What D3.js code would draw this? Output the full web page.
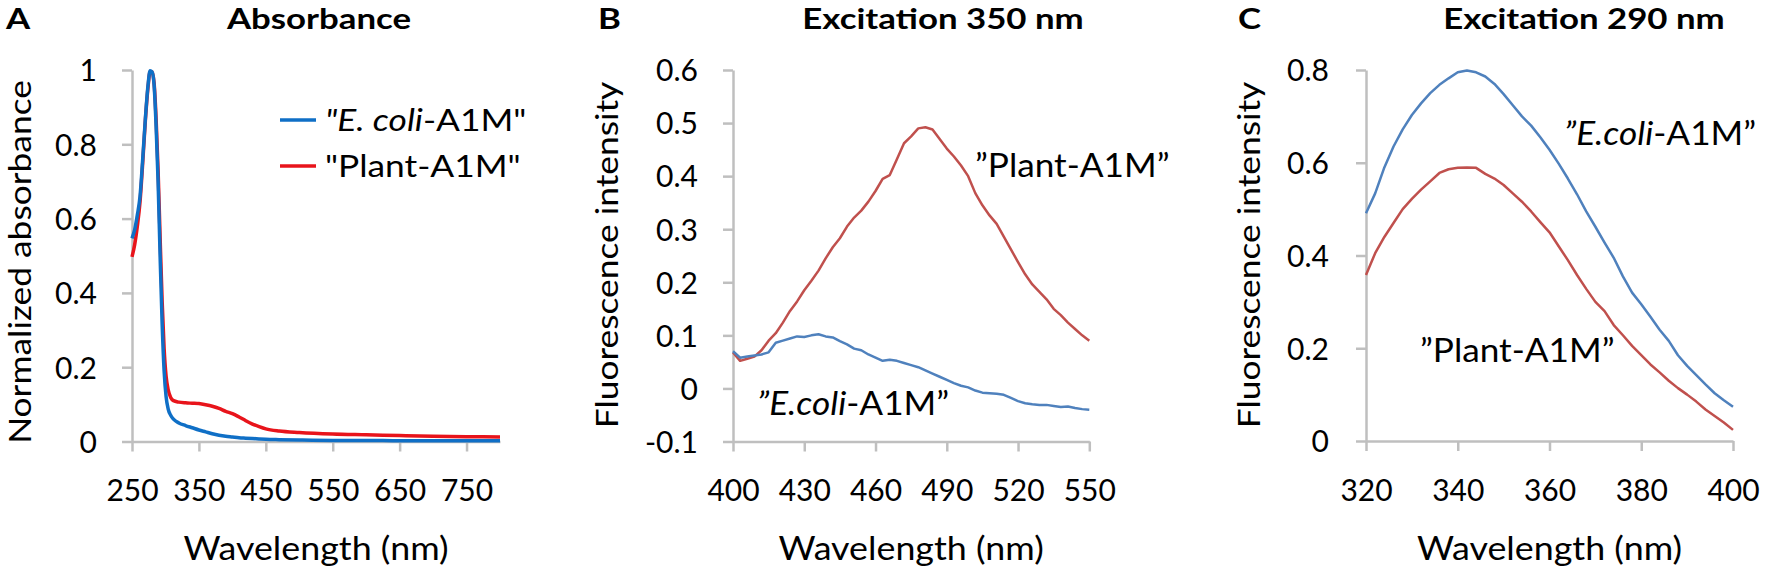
<!DOCTYPE html>
<html>
<head>
<meta charset="utf-8">
<script src="https://cdn.jsdelivr.net/npm/d3@7"></script>
<style>
  html, body { margin: 0; padding: 0; background: #fff; }
  svg { display: block; font-family: Lato, "Open Sans", sans-serif; }
</style>
</head>
<body>
<svg id="chart" width="1765" height="570"></svg>
<script>
// ---------- Panel A: Absorbance ----------
const absWl = [250,254,258,262,266,270,274,277,280,283,286,289,292,295,298,301,304,308,312,320,330,340,350,360,370,380,390,400,410,420,430,440,450,470,500,550,600,650,700,750,800];
const absEcoli = [0.547,0.570,0.610,0.660,0.760,0.870,0.960,0.998,0.995,0.960,0.850,0.700,0.500,0.320,0.190,0.120,0.088,0.070,0.060,0.050,0.043,0.037,0.031,0.026,0.021,0.017,0.014,0.012,0.010,0.009,0.008,0.007,0.006,0.005,0.004,0.003,0.003,0.002,0.002,0.002,0.002];
const absPlant = [0.497,0.530,0.580,0.645,0.750,0.865,0.955,0.995,0.995,0.965,0.870,0.730,0.550,0.380,0.250,0.175,0.140,0.118,0.110,0.106,0.104,0.103,0.102,0.099,0.095,0.089,0.081,0.075,0.066,0.056,0.047,0.040,0.034,0.028,0.024,0.020,0.018,0.016,0.014,0.013,0.012];
const absXTicks = [250,350,450,550,650,750];
const absYTicks = [0,0.2,0.4,0.6,0.8,1];

// ---------- Panel B: Excitation 350 nm ----------
const ex350Wl = [400,403,406,409,412,415,418,421,424,427,430,433,436,439,442,445,448,451,454,457,460,463,466,469,472,475,478,481,484,487,490,493,496,499,502,505,508,511,514,517,520,523,526,529,532,535,538,541,544,547,550];
const ex350Plant = [0.068,0.052,0.056,0.060,0.072,0.090,0.104,0.124,0.146,0.164,0.185,0.203,0.222,0.245,0.266,0.283,0.305,0.322,0.335,0.352,0.372,0.395,0.402,0.432,0.462,0.475,0.490,0.492,0.488,0.470,0.452,0.437,0.420,0.400,0.368,0.345,0.326,0.310,0.286,0.262,0.238,0.215,0.196,0.182,0.168,0.150,0.138,0.124,0.112,0.100,0.090];
const ex350Ecoli = [0.070,0.058,0.060,0.062,0.064,0.068,0.086,0.090,0.094,0.098,0.097,0.100,0.102,0.098,0.096,0.089,0.083,0.075,0.072,0.064,0.058,0.052,0.054,0.052,0.048,0.044,0.040,0.034,0.028,0.022,0.016,0.010,0.005,0.002,-0.004,-0.008,-0.009,-0.010,-0.012,-0.018,-0.024,-0.028,-0.030,-0.031,-0.031,-0.033,-0.035,-0.034,-0.037,-0.039,-0.040];
const ex350XTicks = [400,430,460,490,520,550];
const ex350YTicks = [-0.1,0,0.1,0.2,0.3,0.4,0.5,0.6];

// ---------- Panel C: Excitation 290 nm ----------
const ex290Wl = [320,322,324,326,328,330,332,334,336,338,340,342,344,346,348,350,352,354,356,358,360,362,364,366,368,370,372,374,376,378,380,382,384,386,388,390,392,394,396,398,400];
const ex290Ecoli = [0.491,0.534,0.590,0.635,0.672,0.703,0.728,0.750,0.768,0.782,0.795,0.799,0.795,0.786,0.770,0.748,0.724,0.700,0.680,0.655,0.628,0.598,0.566,0.532,0.495,0.462,0.428,0.395,0.355,0.320,0.295,0.268,0.240,0.216,0.185,0.162,0.142,0.122,0.103,0.088,0.074];
const ex290Plant = [0.358,0.405,0.440,0.470,0.500,0.522,0.542,0.560,0.578,0.586,0.589,0.590,0.589,0.576,0.566,0.552,0.534,0.516,0.495,0.472,0.450,0.420,0.390,0.358,0.328,0.300,0.280,0.250,0.228,0.205,0.185,0.165,0.148,0.130,0.114,0.100,0.085,0.068,0.054,0.040,0.024];
const ex290XTicks = [320,340,360,380,400];
const ex290YTicks = [0,0.2,0.4,0.6,0.8];

const svg = d3.select("#chart");
const AXIS_COLOR = "#BFBFBF";
const TICK_FS = 30;
const AXT_FS = 32, AXT_SX = 1.12;
const YT_FS = 31, YT_SX = 1.14;
const TITLE_FS = 29, TITLE_SX = 1.2;
const ANN_FS = 32, ANN_SX = 1.10;

function zip(xs, ys) { return xs.map((x, i) => [x, ys[i]]); }

function drawPanel(cfg) {
  const g = svg.append("g");
  const x = d3.scaleLinear().domain(cfg.xDomain).range(cfg.xRange);
  const y = d3.scaleLinear().domain(cfg.yDomain).range(cfg.yRange);

  const ya = g.append("g").attr("transform", `translate(${cfg.xRange[0]},0)`)
    .call(d3.axisLeft(y).tickValues(cfg.yTicks).tickSize(10).tickSizeOuter(0).tickFormat(d => String(d)));
  const xa = g.append("g").attr("transform", `translate(0,${cfg.yRange[0]})`)
    .call(d3.axisBottom(x).tickValues(cfg.xTicks).tickSize(10).tickSizeOuter(0).tickFormat(d => String(d)));
  [ya, xa].forEach(a => {
    a.select(".domain").attr("stroke", AXIS_COLOR).attr("stroke-width", 2.5);
    a.selectAll(".tick line").attr("stroke", AXIS_COLOR).attr("stroke-width", 2.5);
    a.selectAll("text").attr("fill", "#000").attr("font-size", TICK_FS).attr("font-family", "Lato");
  });
  ya.selectAll(".tick text")
    .attr("x", -cfg.yLabelGap).attr("dy", null).attr("y", TICK_FS * 0.36).attr("text-anchor", "end");
  xa.selectAll(".tick text")
    .attr("y", 59.5).attr("dy", null).attr("text-anchor", "middle");

  cfg.series.forEach(s => {
    g.append("path")
      .datum(zip(s.x, s.y))
      .attr("fill", "none")
      .attr("stroke", s.color)
      .attr("stroke-width", s.width)
      .attr("stroke-linejoin", "round")
      .attr("d", d3.line().x(d => x(d[0])).y(d => y(d[1])).curve(s.curve || d3.curveLinear));
  });

  const xm = (cfg.xRange[0] + cfg.xRange[1]) / 2;
  g.append("text").attr("transform", `translate(${xm},560) scale(${AXT_SX},1)`)
    .attr("text-anchor", "middle").attr("font-size", AXT_FS).text("Wavelength (nm)");
  g.append("text").attr("transform", `translate(${cfg.yTitleX},${cfg.yTitleY}) rotate(-90) scale(${YT_SX},1)`)
    .attr("text-anchor", "middle").attr("font-size", YT_FS).text(cfg.yTitle);
  g.append("text").attr("transform", `translate(${cfg.titleX},29) scale(${TITLE_SX},1)`)
    .attr("text-anchor", "middle").attr("font-size", TITLE_FS).attr("font-weight", "bold").text(cfg.title);
  g.append("text").attr("transform", `translate(${cfg.letterX},29) scale(${TITLE_SX},1)`)
    .attr("font-size", TITLE_FS).attr("font-weight", "bold").text(cfg.letter);

  return { g, x, y };
}

function annotate(g, xPos, yPos, parts, fs, sx) {
  const t = g.append("text").attr("transform", `translate(${xPos},${yPos}) scale(${sx},1)`).attr("font-size", fs);
  parts.forEach(p => t.append("tspan").attr("font-style", p[1] ? "italic" : "normal").text(p[0]));
  return t;
}

// Panel A
const A = drawPanel({
  xDomain: [250, 800], xRange: [132, 500],
  yDomain: [0, 1], yRange: [441.5, 70],
  xTicks: absXTicks, yTicks: absYTicks, yLabelGap: 35,
  yTitle: "Normalized absorbance", yTitleX: 31, yTitleY: 262,
  title: "Absorbance", titleX: 319, letter: "A", letterX: 6,
  series: [
    { x: absWl, y: absPlant, color: "#E8141B", width: 3.5, curve: d3.curveMonotoneX },
    { x: absWl, y: absEcoli, color: "#0F6FC6", width: 3.5, curve: d3.curveMonotoneX }
  ]
});
const legend = [
  { color: "#0F6FC6", parts: [["\"E. coli", true], ["-A1M\"", false]], y: 120 },
  { color: "#E8141B", parts: [["\"Plant-A1M\"", false]], y: 166 }
];
legend.forEach(l => {
  A.g.append("line").attr("x1", 280).attr("x2", 316).attr("y1", l.y).attr("y2", l.y)
    .attr("stroke", l.color).attr("stroke-width", 3.5);
  annotate(A.g, 325, l.y + 11, l.parts, 31, 1.14);
});

// Panel B
const B = drawPanel({
  xDomain: [400, 550], xRange: [733, 1089.3],
  yDomain: [-0.1, 0.6], yRange: [441.5, 70],
  xTicks: ex350XTicks, yTicks: ex350YTicks, yLabelGap: 35,
  yTitle: "Fluorescence intensity", yTitleX: 618, yTitleY: 255,
  title: "Excitation 350 nm", titleX: 943, letter: "B", letterX: 598,
  series: [
    { x: ex350Wl, y: ex350Plant, color: "#C0504D", width: 2.5 },
    { x: ex350Wl, y: ex350Ecoli, color: "#4F81BD", width: 2.5 }
  ]
});
annotate(B.g, 975, 177, [["\u201DPlant-A1M\u201D", false]], ANN_FS, ANN_SX);
annotate(B.g, 757, 415, [["\u201DE.coli", true], ["-A1M\u201D", false]], ANN_FS, ANN_SX);

// Panel C
const C = drawPanel({
  xDomain: [320, 400], xRange: [1366, 1733],
  yDomain: [0, 0.8], yRange: [441, 70],
  xTicks: ex290XTicks, yTicks: ex290YTicks, yLabelGap: 37,
  yTitle: "Fluorescence intensity", yTitleX: 1260, yTitleY: 255,
  title: "Excitation 290 nm", titleX: 1584, letter: "C", letterX: 1238,
  series: [
    { x: ex290Wl, y: ex290Plant, color: "#C0504D", width: 2.5 },
    { x: ex290Wl, y: ex290Ecoli, color: "#4F81BD", width: 2.5 }
  ]
});
annotate(C.g, 1564, 145, [["\u201DE.coli", true], ["-A1M\u201D", false]], ANN_FS, ANN_SX);
annotate(C.g, 1420, 362, [["\u201DPlant-A1M\u201D", false]], ANN_FS, ANN_SX);
</script>
</body>
</html>
